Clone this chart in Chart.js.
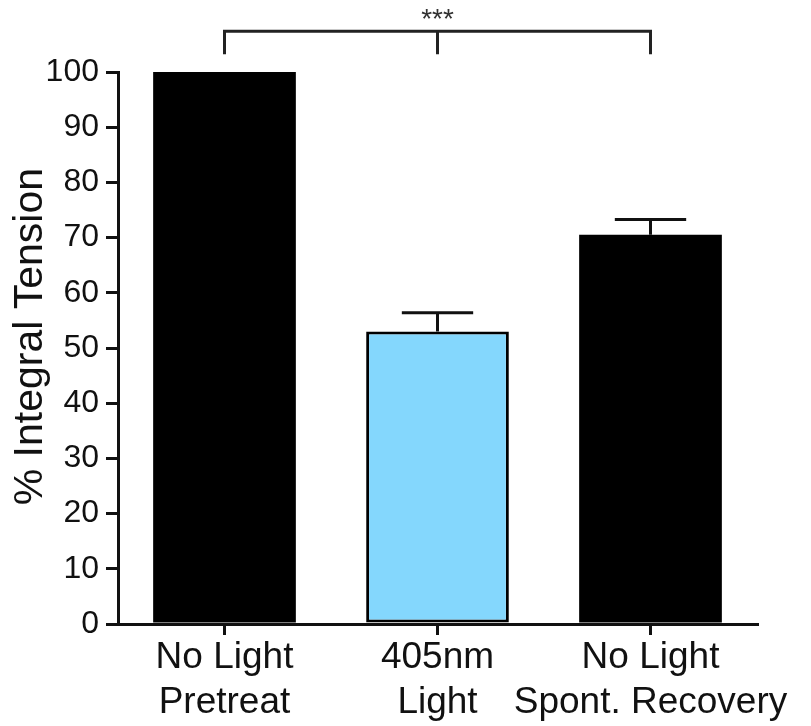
<!DOCTYPE html>
<html>
<head>
<meta charset="utf-8">
<script src="https://cdn.jsdelivr.net/npm/chart.js@4.4.1/dist/chart.umd.min.js"></script>
<style>
  html, body { margin: 0; padding: 0; background: #fff; }
  #wrap { width: 811px; height: 726px; position: relative; }
</style>
</head>
<body>
<div id="wrap"><canvas id="tensionChart"></canvas></div>
<script>
// DATA
const categories = [["No Light", "Pretreat"], ["405nm", "Light"], ["No Light", "Spont. Recovery"]];
const tensionValues = [100, 53, 70.5];
const errorValues = [0, 3.4, 2.8];
const barColors = ["#000000", "#84d7fd", "#000000"];
const barBorders = [0, 3, 0];
const yTicks = [0, 10, 20, 30, 40, 50, 60, 70, 80, 90, 100];
const yTitle = "\u00a0\u00a0% Integral Tension";

// significance bracket (in % units)
const bracketPairs = [0, 1, 2];
const bracketLevel = 107.4;
const bracketLegEnd = 103.2;
const starLevel = 107.9;
const starText = "***";

const FONT = "'Liberation Sans', Arial, Helvetica, sans-serif";

// ERROR BARS
const errorBarPlugin = {
  id: "errorBars",
  afterDatasetsDraw(chart) {
    const ctx = chart.ctx;
    const y = chart.scales.y;
    const meta = chart.getDatasetMeta(0);
    ctx.save();
    ctx.strokeStyle = "#111";
    ctx.lineWidth = 3;
    meta.data.forEach((bar, i) => {
      if (!errorValues[i]) return;
      const top = y.getPixelForValue(tensionValues[i] + errorValues[i]);
      const base = y.getPixelForValue(tensionValues[i]);
      const half = bar.width / 4;
      ctx.beginPath();
      ctx.moveTo(bar.x, base);
      ctx.lineTo(bar.x, top);
      ctx.moveTo(bar.x - half, top);
      ctx.lineTo(bar.x + half, top);
      ctx.stroke();
    });
    ctx.restore();
  }
};

// BRACKET
const bracketPlugin = {
  id: "bracket",
  afterDraw(chart) {
    const ctx = chart.ctx;
    const x = chart.scales.x;
    const y = chart.scales.y;
    const yb = y.getPixelForValue(bracketLevel);
    const yl = y.getPixelForValue(bracketLegEnd);
    const xs = bracketPairs.map(i => x.getPixelForValue(i));
    ctx.save();
    ctx.strokeStyle = "#222";
    ctx.lineWidth = 3;
    ctx.beginPath();
    ctx.moveTo(xs[0], yl);
    ctx.lineTo(xs[0], yb);
    ctx.lineTo(xs[xs.length - 1], yb);
    ctx.lineTo(xs[xs.length - 1], yl);
    xs.slice(1, -1).forEach(px => {
      ctx.moveTo(px, yb);
      ctx.lineTo(px, yl);
    });
    ctx.stroke();
    ctx.fillStyle = "#333";
    ctx.font = "28px " + FONT;
    ctx.textAlign = "center";
    ctx.textBaseline = "alphabetic";
    const mid = (xs[0] + xs[xs.length - 1]) / 2;
    ctx.fillText(starText, mid, y.getPixelForValue(starLevel));
    ctx.restore();
  }
};

new Chart(document.getElementById("tensionChart"), {
  type: "bar",
  data: {
    labels: categories,
    datasets: [{
      data: tensionValues,
      backgroundColor: barColors,
      borderColor: "#000",
      borderWidth: barBorders,
      borderSkipped: false,
      categoryPercentage: 1,
      barPercentage: 0.67
    }]
  },
  options: {
    responsive: true,
    maintainAspectRatio: false,
    animation: false,
    layout: { padding: { top: 72, right: 54, left: 0, bottom: 0 } },
    plugins: { legend: { display: false }, tooltip: { enabled: false } },
    scales: {
      x: {
        offset: true,
        grid: { display: true, drawOnChartArea: false, offset: false, tickLength: 11, color: "#111", lineWidth: 3 },
        border: { display: true, color: "#111", width: 3 },
        ticks: {
          color: "#111", padding: 0, autoSkip: false, maxRotation: 0, minRotation: 0,
          font: { family: FONT, size: 37, lineHeight: 1.22 }
        },
        afterFit(scale) { scale.height = 102; }
      },
      y: {
        min: 0,
        max: 100,
        afterBuildTicks(scale) { scale.ticks = yTicks.map(v => ({ value: v })); },
        grid: { display: true, drawOnChartArea: false, tickLength: 12, color: "#111", lineWidth: 3 },
        border: { display: true, color: "#111", width: 3 },
        ticks: { color: "#111", padding: 7, font: { family: FONT, size: 32 } },
        title: {
          display: true,
          text: yTitle,
          color: "#111",
          padding: { top: 6, bottom: 0 },
          font: { family: FONT, size: 41, lineHeight: 1.2 }
        },
        afterFit(scale) { scale.width = 118; }
      }
    }
  },
  plugins: [errorBarPlugin, bracketPlugin]
});
</script>
</body>
</html>
